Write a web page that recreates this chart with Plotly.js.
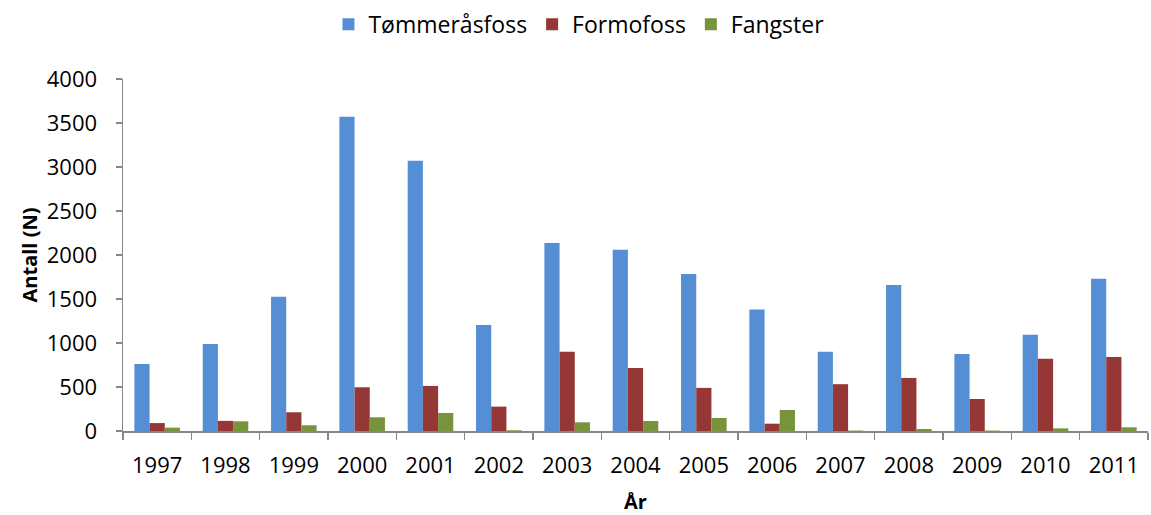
<!DOCTYPE html>
<html>
<head>
<meta charset="utf-8">
<script src="https://cdn.plot.ly/plotly-3.0.1.min.js"></script>
<style>html,body{margin:0;padding:0;background:#fff;}#chart{width:1151px;height:515px;}</style>
</head>
<body>
<div id="chart"></div>
<script>
const years = ['1997','1998','1999','2000','2001','2002','2003','2004','2005','2006','2007','2008','2009','2010','2011'];
const tommerasfoss = [760, 990, 1525, 3570, 3070, 1205, 2135, 2060, 1785, 1380, 900, 1660, 875, 1095, 1730];
const formofoss = [90, 115, 213, 497, 512, 277, 900, 717, 490, 83, 532, 603, 364, 820, 842];
const fangster = [38, 110, 65, 156, 205, 8, 99, 114, 148, 239, 5, 23, 5, 30, 42];

const FONT = 'Open Sans, Liberation Sans, sans-serif';
const traces = [
  {type:'bar', name:'Tømmeråsfoss', x:years, y:tommerasfoss, marker:{color:'#558ED5'}},
  {type:'bar', name:'Formofoss', x:years, y:formofoss, marker:{color:'#953735'}},
  {type:'bar', name:'Fangster', x:years, y:fangster, marker:{color:'#77933C'}}
];
const layout = {
  width:1151, height:515,
  margin:{l:123, r:3, t:79, b:84},
  paper_bgcolor:'#fff', plot_bgcolor:'#fff',
  font:{family:FONT, size:22, color:'#000'},
  barmode:'group', bargap:0.333, bargroupgap:0,
  showlegend:true,
  legend:{orientation:'h', x:0.503, xanchor:'center', xref:'container', y:0.953, yref:'container', yanchor:'middle', font:{family:FONT, size:23, color:'#000'}, itemwidth:30},
  xaxis:{type:'category', showline:true, linecolor:'#868686', linewidth:1.5, ticks:'outside', tickson:'boundaries', ticklen:7, tickcolor:'#868686', tickwidth:1.5, showgrid:false, zeroline:false,
    ticklabelstandoff:14, tickfont:{family:FONT, size:22}, title:{text:'År', font:{family:FONT, size:20, weight:'bold'}, standoff:18}},
  yaxis:{range:[0,4000], dtick:500, showline:true, linecolor:'#868686', linewidth:1.5, ticks:'outside', ticklen:6, tickcolor:'#868686', tickwidth:1.5, showgrid:false, zeroline:false,
    ticklabelstandoff:14, tickfont:{family:FONT, size:22}, title:{text:'Antall (N)', font:{family:FONT, size:20, weight:'bold'}, standoff:4}}
};
Plotly.newPlot('chart', traces, layout, {displayModeBar:false, staticPlot:true});
</script>
</body>
</html>
